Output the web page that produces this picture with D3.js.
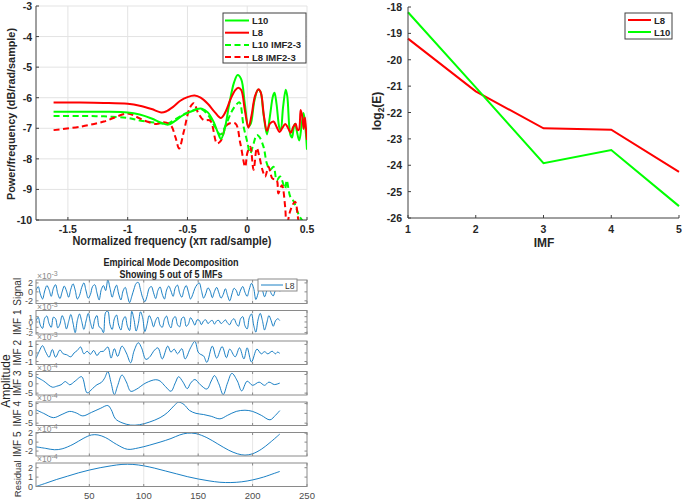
<!DOCTYPE html>
<html><head><meta charset="utf-8">
<script src="https://cdn.jsdelivr.net/npm/d3@7"></script>
<style>body{margin:0;background:#fff}svg{display:block}text{font-family:"Liberation Sans",Arial,Helvetica,sans-serif}</style>
</head><body><svg id="c" width="685" height="503"></svg>
<script>
// ---------- DATA ----------
// Top-left: PSD curves [normalized frequency, dB]
const psdL10 = [[-1.62,-6.46],[-1.4,-6.46],[-1.2,-6.46],[-1.0,-6.48],[-0.9,-6.55],[-0.8,-6.68],[-0.72,-6.82],[-0.66,-6.88],[-0.6,-6.75],[-0.54,-6.58],[-0.47,-6.45],[-0.42,-6.37],[-0.38,-6.36],[-0.33,-6.48],[-0.28,-6.8],[-0.245,-7.15],[-0.22,-7.35],[-0.19,-7.05],[-0.15,-6.2],[-0.11,-5.5],[-0.08,-5.26],[-0.05,-5.4],[-0.02,-6.2],[0.01,-6.95],[0.03,-6.85],[0.06,-6.1],[0.09,-5.74],[0.11,-5.8],[0.135,-6.5],[0.165,-7.2],[0.19,-6.6],[0.215,-5.95],[0.228,-5.84],[0.245,-6.2],[0.27,-7.0],[0.28,-7.05],[0.30,-6.3],[0.322,-5.74],[0.335,-5.95],[0.36,-7.2],[0.375,-7.3],[0.39,-6.95],[0.40,-6.85],[0.415,-7.1],[0.435,-7.4],[0.455,-6.9],[0.47,-6.5],[0.48,-6.7],[0.5,-7.7]];
const psdL8 = [[-1.62,-6.16],[-1.4,-6.16],[-1.2,-6.17],[-1.0,-6.2],[-0.9,-6.26],[-0.8,-6.37],[-0.72,-6.48],[-0.68,-6.45],[-0.62,-6.3],[-0.56,-6.1],[-0.5,-5.98],[-0.44,-5.93],[-0.39,-6.0],[-0.33,-6.2],[-0.27,-6.48],[-0.22,-6.66],[-0.18,-6.45],[-0.14,-6.05],[-0.1,-5.75],[-0.075,-5.67],[-0.05,-5.75],[-0.02,-6.4],[0.01,-6.98],[0.035,-6.6],[0.065,-5.95],[0.095,-5.72],[0.115,-5.85],[0.14,-6.6],[0.165,-7.08],[0.19,-6.85],[0.22,-6.78],[0.245,-6.95],[0.27,-7.12],[0.295,-6.98],[0.318,-6.86],[0.34,-6.98],[0.365,-7.15],[0.385,-6.95],[0.405,-6.85],[0.42,-7.05],[0.432,-7.05],[0.447,-6.4],[0.46,-6.6],[0.472,-7.02],[0.482,-6.65],[0.49,-6.95],[0.5,-7.38]];
const psdL10imf = [[-1.62,-6.6],[-1.4,-6.6],[-1.2,-6.61],[-1.0,-6.66],[-0.89,-6.75],[-0.76,-6.82],[-0.67,-6.85],[-0.6,-6.7],[-0.52,-6.52],[-0.45,-6.42],[-0.39,-6.36],[-0.33,-6.55],[-0.27,-6.95],[-0.225,-7.2],[-0.18,-6.9],[-0.13,-6.45],[-0.09,-6.22],[-0.065,-6.15],[-0.03,-6.95],[0.0,-7.44],[0.025,-7.82],[0.053,-7.5],[0.08,-7.22],[0.1,-7.27],[0.136,-7.6],[0.164,-8.15],[0.19,-8.36],[0.22,-8.26],[0.247,-8.7],[0.275,-8.58],[0.317,-8.97],[0.33,-8.7],[0.36,-9.24],[0.39,-9.4],[0.415,-9.67],[0.44,-9.9],[0.47,-10.05],[0.5,-10.1]];
const psdL8imf = [[-1.62,-7.06],[-1.4,-6.95],[-1.2,-6.78],[-1.0,-6.52],[-0.93,-6.62],[-0.86,-6.75],[-0.76,-6.86],[-0.7,-6.8],[-0.64,-6.9],[-0.6,-7.3],[-0.57,-7.66],[-0.53,-7.1],[-0.48,-6.33],[-0.447,-6.18],[-0.41,-6.5],[-0.364,-6.73],[-0.31,-6.75],[-0.253,-7.49],[-0.22,-7.4],[-0.17,-6.89],[-0.1,-6.84],[-0.058,-7.49],[-0.017,-8.26],[0.0,-7.82],[0.025,-7.6],[0.053,-8.36],[0.08,-7.65],[0.1,-7.9],[0.127,-8.36],[0.15,-8.58],[0.178,-8.26],[0.21,-8.64],[0.247,-8.7],[0.26,-9.13],[0.29,-8.86],[0.317,-9.56],[0.33,-10.2],[0.36,-9.7],[0.4,-9.4],[0.43,-10.05],[0.45,-10.3]];
const psdXTicks = [-1.5,-1,-0.5,0,0.5];
const psdYTicks = [-10,-9,-8,-7,-6,-5,-4,-3];

// Top-right: log2 energy per IMF
const imfIdx = [1,2,3,4,5];
const energyL8 = [-19.2,-21.2,-22.6,-22.65,-24.25];
const energyL10 = [-18.2,-21.05,-23.92,-23.42,-25.55];
const energyYTicks = [-26,-25,-24,-23,-22,-21,-20,-19,-18];

// Bottom: EMD of L8 (signal & IMF1 sampled every 2 samples from n=1)
const signalVals = [0.3,1.2,-0.5,-1.6,0.2,1.4,0.5,-1.0,0.8,1.6,-0.4,-1.5,0.0,1.3,0.2,-1.2,0.6,1.8,0.4,-1.6,-0.8,1.0,2.0,0.2,-1.4,-0.6,1.2,1.6,-0.2,-1.8,0.5,1.4,0.3,2.7,0.8,-1.2,0.4,1.5,-0.5,-1.8,0.2,1.0,-0.8,-2.4,-1.0,0.6,1.9,2.1,0.5,-1.3,-2.2,-1.0,0.8,1.2,-0.2,-1.5,0.3,1.1,-0.5,-1.6,0.4,1.3,0.2,-1.0,0.9,1.5,-0.3,-1.2,0.5,1.4,0.0,-1.6,-0.6,0.8,1.6,2.0,0.3,-1.4,-0.4,0.9,0.2,-1.3,0.1,1.0,-0.2,-1.4,-0.6,0.7,-0.8,-2.0,-0.5,0.8,0.3,-0.9,0.4,1.2,-0.1,-1.0,0.6,1.9,0.8,-1.7,-0.4,1.3,0.4,-1.1,0.2,1.1,-0.3,-0.9,0.3,0.5,0.1];
const imf1Vals = [0.2,0.9,-0.6,-1.2,0.7,1.1,-0.3,-1.0,0.9,0.6,-1.1,-0.4,1.2,0.3,-1.3,0.1,1.4,-0.2,-2.0,0.3,1.5,0.1,-1.4,0.2,1.6,-0.1,-1.3,0.5,1.2,-0.9,-1.2,-2.0,1.8,2.0,-0.5,-1.4,0.6,1.3,-0.6,-1.5,0.4,1.0,-0.8,-1.6,2.0,0.5,-1.7,-0.3,1.9,0.8,-1.8,-0.5,1.2,0.4,-0.9,0.3,0.9,-0.6,-1.0,0.5,1.1,-0.4,-1.1,0.6,1.0,-0.5,-0.9,0.7,0.9,-0.8,-0.4,0.8,0.2,-0.6,0.4,0.3,-0.5,0.2,0.4,-0.3,0.1,0.3,-0.4,0.2,0.3,-0.3,0.0,0.4,-0.2,-0.5,0.3,0.6,-0.3,-0.8,0.6,1.0,-0.7,-1.3,0.8,1.5,-0.6,-1.9,0.4,1.6,0.3,-1.5,-0.2,1.2,0.3,-0.8,0.2,0.6,0.3];
const imf2Pts = [[1,-0.65],[4,0.2],[7,0.85],[10,0.1],[13,-0.5],[16,0.4],[19,-0.5],[23,0.35],[26,-0.1],[29,-0.2],[33,-0.45],[36,0.0],[39,0.3],[42,0.7],[45,-0.1],[48,0.2],[51,-0.15],[54,0.3],[57,-0.3],[60,0.15],[63,0.2],[67,0.7],[70,-0.6],[73,0.5],[76,-0.4],[80,0.8],[84,0.0],[88,-1.15],[91,0.2],[95,1.2],[98,0.6],[102,-0.75],[106,-0.4],[109,0.2],[113,0.6],[117,-0.7],[122,0.8],[125,0.1],[128,0.45],[131,-0.1],[135,0.5],[138,-0.7],[143,0.6],[147,1.35],[150,0.1],[152,-0.15],[155,-0.35],[158,-1.1],[163,0.8],[167,-0.6],[172,0.75],[176,-0.55],[179,0.45],[184,-0.45],[188,0.6],[192,-0.7],[195,0.6],[199,-1.05],[204,0.45],[208,-0.1],[211,0.15],[214,-0.1],[218,0.2],[221,-0.1],[223,0.1],[225,-0.05]];
const imf3Pts = [[1,3.8],[8,1.5],[16,-1.8],[20,-1.3],[24,-0.5],[28,1.2],[32,-0.5],[37,1.5],[43,3.8],[48,-4.9],[53,-2.5],[57,-0.5],[61,0.7],[64,3.0],[67,6.5],[70,0.5],[73,-5.8],[76,-1.0],[80,4.7],[84,1.0],[88,-4.0],[93,-3.0],[102,0.5],[111,2.2],[115,1.5],[120,-1.5],[125,-4.0],[129,0.5],[132,3.8],[136,1.0],[140,-2.6],[143,0.3],[147,2.3],[152,-0.5],[158,-2.8],[162,1.5],[165,4.4],[169,0.0],[173,-5.8],[177,0.5],[181,5.6],[186,1.5],[190,-3.8],[195,1.4],[200,-0.8],[206,0.9],[211,-0.8],[215,0.9],[220,-0.4],[225,0.4]];
const imf4Pts = [[1,1.8],[8,0],[17,-2.2],[25,-0.5],[32,1.0],[38,0.2],[44,-1.3],[52,0.5],[60,2.5],[67,4.0],[70,2.0],[74,-2.8],[80,-4.8],[88,-6.0],[96,-5.8],[105,-4.5],[115,-2.2],[122,0.5],[128,4.0],[132,5.7],[137,4.5],[142,1.5],[148,0.0],[155,-0.6],[162,-1.5],[170,-2.8],[177,-1.0],[185,1.0],[193,1.6],[200,1.0],[208,-1.0],[216,-3.3],[221,-1.0],[225,1.4]];
const imf5Pts = [[1,-1.05],[10,-1.4],[18,-1.7],[25,-1.5],[35,-0.5],[45,0.9],[52,1.6],[58,1.6],[65,1.0],[75,-0.5],[85,-1.6],[95,-1.3],[105,-0.7],[115,0.0],[125,0.8],[133,1.6],[140,2.0],[148,1.9],[158,1.0],[168,-0.4],[178,-1.8],[186,-2.6],[193,-2.9],[200,-2.6],[208,-1.6],[216,-0.1],[225,1.8]];
const residualPts = [[1,0],[10,0.35],[20,0.75],[30,1.1],[40,1.45],[50,1.75],[60,2.0],[70,2.2],[80,2.35],[90,2.35],[100,2.2],[110,1.95],[120,1.65],[130,1.35],[140,1.05],[150,0.8],[160,0.6],[170,0.45],[180,0.42],[190,0.5],[200,0.7],[210,1.0],[220,1.4],[225,1.6]];
const stripNames = ["Signal","IMF 1","IMF 2","IMF 3","IMF 4","IMF 5","Residual"];
const stripExp = ["-3","-3","-3","-4","-4","-4","-4"];
const stripDomains = [[-2.6,2.65],[-2.25,2.15],[-1.35,1.4],[-6.0,6.6],[-6.2,5.8],[-3.1,2.15],[0,2.5]];
const stripTicks = [[-2,0,2],[-2,-1,0,1],[-1,0,1],[-5,0,5],[-5,0,5],[-2,0,2],[0,1,2]];
const sampleTicks = [50,100,150,200,250];

// ---------- DRAW ----------
const svg = d3.select("#c");
const RED = "#ff0000", GREEN = "#00ff00", BLUE = "#0072bd";
function txt(g, x, y, s, o = {}) {
  const t = g.append("text").attr("x", x).attr("y", y).text(s)
    .attr("font-size", o.size || 10).attr("fill", o.fill || "#262626")
    .attr("font-weight", o.bold ? "bold" : "normal")
    .attr("text-anchor", o.anchor || "start");
  if (o.len) t.attr("textLength", o.len).attr("lengthAdjust", "spacingAndGlyphs");
  if (o.rot) t.attr("transform", `rotate(-90,${x},${y})`);
  return t;
}
const defs = svg.append("defs");

// ===== Top-left PSD =====
{
  const L = 36, R = 307, T = 6, B = 220;
  const x = d3.scaleLinear().domain([-1.767, 0.5]).range([L, R]);
  const y = d3.scaleLinear().domain([-10, -3]).range([B, T]);
  const g = svg.append("g");
  g.selectAll(".gx").data(psdXTicks).join("line").attr("x1", d => x(d)).attr("x2", d => x(d))
    .attr("y1", T).attr("y2", B).attr("stroke", "#e3e3e3");
  g.selectAll(".gy").data(psdYTicks).join("line").attr("y1", d => y(d)).attr("y2", d => y(d))
    .attr("x1", L).attr("x2", R).attr("stroke", "#e3e3e3");
  defs.append("clipPath").attr("id", "clipTL").append("rect").attr("x", L).attr("y", T).attr("width", R - L).attr("height", B - T);
  const line = d3.line().x(d => x(d[0])).y(d => y(d[1])).curve(d3.curveCatmullRom.alpha(0.5));
  const series = [
    [psdL10imf, GREEN, "6,3.5"], [psdL8imf, RED, "6,3.5"], [psdL10, GREEN, null], [psdL8, RED, null]
  ];
  const pg = g.append("g").attr("clip-path", "url(#clipTL)");
  series.forEach(([d, c, dash]) => {
    pg.append("path").attr("d", line(d)).attr("fill", "none").attr("stroke", c)
      .attr("stroke-width", 2).attr("stroke-dasharray", dash);
  });
  g.append("line").attr("x1", L).attr("x2", L).attr("y1", T).attr("y2", B).attr("stroke", "#404040");
  g.append("line").attr("x1", L).attr("x2", R).attr("y1", B).attr("y2", B).attr("stroke", "#404040");
  psdXTicks.forEach(v => {
    g.append("line").attr("x1", x(v)).attr("x2", x(v)).attr("y1", B).attr("y2", B - 3).attr("stroke", "#404040");
    txt(g, x(v), 233, String(v), { anchor: "middle", bold: true, size: 10.5 });
  });
  psdYTicks.forEach(v => {
    g.append("line").attr("x1", L).attr("x2", L + 3).attr("y1", y(v)).attr("y2", y(v)).attr("stroke", "#404040");
    txt(g, 32, y(v) + 4, String(v), { anchor: "end", bold: true, size: 10.5 });
  });
  txt(g, 172, 245, "Normalized frequency (x\u03c0 rad/sample)", { anchor: "middle", bold: true, size: 12, len: 199 });
  txt(g, 15, 114, "Power/frequency (dB/rad/sample)", { anchor: "middle", bold: true, size: 11.5, rot: true, len: 172 });
  const lg = g.append("g");
  lg.append("rect").attr("x", 223).attr("y", 13).attr("width", 83).attr("height", 50).attr("fill", "#fff").attr("stroke", "#404040");
  const items = [["L10", GREEN, null], ["L8", RED, null], ["L10 IMF2-3", GREEN, "6,3.5"], ["L8 IMF2-3", RED, "6,3.5"]];
  items.forEach(([n, c, dash], i) => {
    const yy = 20.5 + i * 12.2;
    lg.append("line").attr("x1", 225).attr("x2", 249).attr("y1", yy).attr("y2", yy).attr("stroke", c).attr("stroke-width", 2).attr("stroke-dasharray", dash);
    txt(lg, 252, yy + 3.5, n, { bold: true, size: 9.5 });
  });
}

// ===== Top-right energy =====
{
  const L = 408, R = 679, T = 7, B = 218;
  const x = d3.scaleLinear().domain([1, 5]).range([L, R]);
  const y = d3.scaleLinear().domain([-26, -18]).range([B, T]);
  const g = svg.append("g");
  const line = d3.line().x((d, i) => x(imfIdx[i])).y(d => y(d));
  g.append("path").attr("d", line(energyL8)).attr("fill", "none").attr("stroke", RED).attr("stroke-width", 2);
  g.append("path").attr("d", line(energyL10)).attr("fill", "none").attr("stroke", GREEN).attr("stroke-width", 2);
  g.append("line").attr("x1", L).attr("x2", L).attr("y1", T).attr("y2", B).attr("stroke", "#404040");
  g.append("line").attr("x1", L).attr("x2", R).attr("y1", B).attr("y2", B).attr("stroke", "#404040");
  imfIdx.forEach(v => {
    g.append("line").attr("x1", x(v)).attr("x2", x(v)).attr("y1", B).attr("y2", B - 3).attr("stroke", "#404040");
    txt(g, x(v), 233, String(v), { anchor: "middle", bold: true, size: 10.5 });
  });
  energyYTicks.forEach(v => {
    g.append("line").attr("x1", L).attr("x2", L + 3).attr("y1", y(v)).attr("y2", y(v)).attr("stroke", "#404040");
    txt(g, 402, y(v) + 4, String(v), { anchor: "end", bold: true, size: 10.5 });
  });
  txt(g, 544, 247, "IMF", { anchor: "middle", bold: true, size: 12 });
  const yl = g.append("text").attr("transform", "translate(381,111) rotate(-90)").attr("text-anchor", "middle")
    .attr("font-size", 12).attr("font-weight", "bold").attr("fill", "#262626");
  yl.append("tspan").text("log");
  yl.append("tspan").text("2").attr("font-size", 8.5).attr("dy", 3);
  yl.append("tspan").text("(E)").attr("dy", -3);
  const lg = g.append("g");
  lg.append("rect").attr("x", 625).attr("y", 13).attr("width", 47).attr("height", 26).attr("fill", "#fff").attr("stroke", "#404040");
  [["L8", RED], ["L10", GREEN]].forEach(([n, c], i) => {
    const yy = 20 + i * 12;
    lg.append("line").attr("x1", 628).attr("x2", 651).attr("y1", yy).attr("y2", yy).attr("stroke", c).attr("stroke-width", 2);
    txt(lg, 654, yy + 3.5, n, { bold: true, size: 9.5 });
  });
}

// ===== Bottom EMD =====
{
  const L = 36, R = 307, H = 23.5;
  const tops = [280, 310.5, 341, 371.5, 402, 432.5, 463];
  const x = d3.scaleLinear().domain([1, 250]).range([L, R]);
  const g = svg.append("g");
  txt(g, 171, 266, "Empirical Mode Decomposition", { anchor: "middle", bold: true, size: 11, len: 135, fill: "#222" });
  txt(g, 171, 278, "Showing 5 out of 5 IMFs", { anchor: "middle", bold: true, size: 11, len: 103, fill: "#222" });
  const data = [
    signalVals.map((v, i) => [1 + 2 * i, v]),
    imf1Vals.map((v, i) => [1 + 2 * i, v]),
    imf2Pts, imf3Pts, imf4Pts, imf5Pts, residualPts
  ];
  const labelCenters = [0, 0, 0, 0, 0, 0, 4];
  data.forEach((d, k) => {
    const T = tops[k], B = T + H;
    const y = d3.scaleLinear().domain(stripDomains[k]).range([B, T]);
    const sg = g.append("g");
    sampleTicks.slice(0, 4).forEach(v => sg.append("line").attr("x1", x(v)).attr("x2", x(v)).attr("y1", T).attr("y2", B).attr("stroke", "#e6e6e6"));
    const cid = "clipS" + k;
    defs.append("clipPath").attr("id", cid).append("rect").attr("x", L).attr("y", T).attr("width", R - L).attr("height", H);
    const line = d3.line().x(p => x(p[0])).y(p => y(p[1])).curve(d3.curveCatmullRom.alpha(0.5));
    sg.append("path").attr("d", line(d)).attr("fill", "none").attr("stroke", BLUE).attr("stroke-width", 0.9).attr("clip-path", `url(#${cid})`);
    sg.append("rect").attr("x", L).attr("y", T).attr("width", R - L).attr("height", H).attr("fill", "none").attr("stroke", "#8a8a8a");
    stripTicks[k].forEach(v => {
      sg.append("line").attr("x1", L).attr("x2", L + 2.5).attr("y1", y(v)).attr("y2", y(v)).attr("stroke", "#8a8a8a");
      sg.append("line").attr("x1", R).attr("x2", R - 2.5).attr("y1", y(v)).attr("y2", y(v)).attr("stroke", "#8a8a8a");
      txt(sg, 33, y(v) + 3, String(v), { anchor: "end", size: k === 1 ? 8 : 9, fill: "#4d4d4d" });
    });
    sampleTicks.forEach(v => {
      sg.append("line").attr("x1", x(v)).attr("x2", x(v)).attr("y1", B).attr("y2", B - 2.5).attr("stroke", "#8a8a8a");
      sg.append("line").attr("x1", x(v)).attr("x2", x(v)).attr("y1", T).attr("y2", T + 2.5).attr("stroke", "#8a8a8a");
    });
    const et = sg.append("text").attr("x", 37).attr("y", T - 1).attr("font-size", 8.5).attr("fill", "#8a8a8a");
    et.append("tspan").text("\u00d710");
    et.append("tspan").text(stripExp[k]).attr("dy", -3).attr("font-size", 7);
    txt(sg, 21, T + H / 2 + labelCenters[k], stripNames[k], { anchor: "middle", size: k === 6 ? 9.5 : 10, rot: true, fill: "#333" });
    if (k === 6) sampleTicks.forEach(v => txt(sg, x(v), 499, String(v), { anchor: "middle", size: 9.5, fill: "#4d4d4d" }));
  });
  txt(g, 10, 381, "Amplitude", { anchor: "middle", size: 12, rot: true, fill: "#222" });
  const lg = g.append("g");
  lg.append("rect").attr("x", 258).attr("y", 279).attr("width", 39).attr("height", 12).attr("fill", "#fff").attr("stroke", "#8a8a8a");
  lg.append("line").attr("x1", 261).attr("x2", 283).attr("y1", 285).attr("y2", 285).attr("stroke", BLUE).attr("stroke-width", 0.9);
  txt(lg, 285, 288.5, "L8", { size: 8.5, fill: "#333" });
}
</script></body></html>
